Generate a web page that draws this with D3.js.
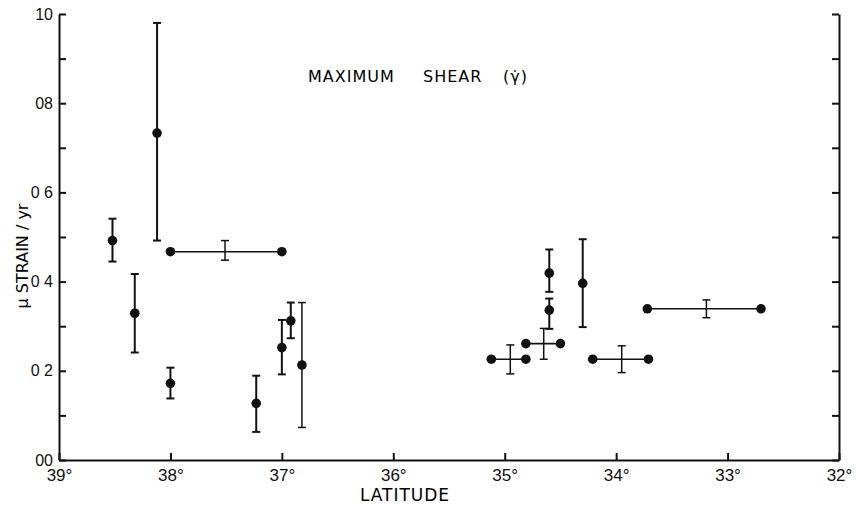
<!DOCTYPE html>
<html>
<head>
<meta charset="utf-8">
<script src="https://cdn.jsdelivr.net/npm/d3@7"></script>
<style>
  body { margin: 0; background: #fff; }
  svg { font-family: "DejaVu Sans", sans-serif; }
  .axis path, .axis line { stroke: #111; stroke-width: 2; }
  .axis text { font-size: 16px; fill: #111; }
</style>
</head>
<body>
<svg width="857" height="506"></svg>
<script>
// DATA

// single stations: latitude, rate, error bar low / high
var singleLat = [38.52, 38.12, 38.32, 38.0, 37.23, 37.0, 36.92, 36.82, 34.6, 34.6, 34.3];
var singleVal = [0.492, 0.733, 0.329, 0.172, 0.127, 0.252, 0.312, 0.213, 0.419, 0.336, 0.396];
var singleLo  = [0.445, 0.492, 0.241, 0.138, 0.063, 0.192, 0.273, 0.073, 0.377, 0.294, 0.298];
var singleHi  = [0.541, 0.980, 0.417, 0.207, 0.189, 0.314, 0.353, 0.353, 0.472, 0.362, 0.495];

// networks spanning a latitude range: ends, rate, error bar position and extent
var spanLatA = [38.0, 35.12, 34.81, 34.21, 33.72];
var spanLatB = [37.0, 34.81, 34.5, 33.71, 32.70];
var spanVal  = [0.467, 0.226, 0.261, 0.226, 0.339];
var spanMid  = [37.51, 34.95, 34.65, 33.95, 33.19];
var spanLo   = [0.448, 0.193, 0.226, 0.196, 0.319];
var spanHi   = [0.492, 0.258, 0.295, 0.256, 0.359];

var latTicks = [39, 38, 37, 36, 35, 34, 33, 32];
var rateTicks = [0, 0.1, 0.2, 0.3, 0.4, 0.5, 0.6, 0.7, 0.8, 0.9, 1.0];
var rateLabels = ["00", "", "0 2", "", "0 4", "", "0 6", "", "08", "", "10"];

// SETUP

var svg = d3.select("svg"),
    margin = { top: 14, right: 18, bottom: 46, left: 59 },
    width = 857 - margin.left - margin.right,
    height = 506 - margin.top - margin.bottom;

var x = d3.scaleLinear().domain([39, 32]).range([0, width]);
var y = d3.scaleLinear().domain([0, 1]).range([height, 0]);

var g = svg.append("g")
    .attr("transform", "translate(" + margin.left + "," + margin.top + ")");

// AXES

g.append("g")
    .attr("class", "axis axis--y")
    .call(d3.axisLeft(y).tickValues(rateTicks).tickSize(-7).tickSizeOuter(0).tickPadding(6)
        .tickFormat(function (d, i) { return rateLabels[i]; }));

g.append("g")
    .attr("class", "axis axis--y2")
    .attr("transform", "translate(" + width + ",0)")
    .call(d3.axisRight(y).tickValues(rateTicks).tickSize(-7).tickSizeOuter(0).tickFormat(""));

g.append("g")
    .attr("class", "axis axis--x")
    .attr("transform", "translate(0," + height + ")")
    .call(d3.axisBottom(x).tickValues(latTicks).tickSize(-7).tickSizeOuter(0).tickPadding(9)
        .tickFormat(function (d) { return d + "°"; }));

g.selectAll(".axis--x text").style("font-size", "17px");

// labels
svg.append("text")
    .attr("x", 405).attr("y", 501)
    .attr("text-anchor", "middle")
    .style("font-size", "17px").style("letter-spacing", "1px")
    .text("LATITUDE");

svg.append("text")
    .attr("transform", "translate(28,256) rotate(-90)")
    .attr("text-anchor", "middle")
    .style("font-size", "16px")
    .text("μ STRAIN / yr");

var title = svg.append("text")
    .attr("y", 82)
    .style("font-size", "16px").style("letter-spacing", "1px");
title.append("tspan").attr("x", 308).text("MAXIMUM");
title.append("tspan").attr("x", 423).text("SHEAR");
title.append("tspan").attr("x", 503).text("(γ̇)");

// MARKS

function errBar(sel, lat, lo, hi, w) {
    var cx = x(lat);
    sel.append("line").attr("x1", cx).attr("x2", cx).attr("y1", y(lo)).attr("y2", y(hi));
    sel.append("line").attr("x1", cx - 4).attr("x2", cx + 4).attr("y1", y(lo)).attr("y2", y(lo));
    sel.append("line").attr("x1", cx - 4).attr("x2", cx + 4).attr("y1", y(hi)).attr("y2", y(hi));
    sel.selectAll("line").attr("stroke", "#111").attr("stroke-width", w);
}

singleLat.forEach(function (lat, i) {
    var s = g.append("g").attr("class", "single");
    errBar(s, lat, singleLo[i], singleHi[i], i === 7 ? 1.5 : 2);
    s.append("circle")
        .attr("cx", x(lat)).attr("cy", y(singleVal[i])).attr("r", 4.8)
        .attr("fill", "#111");
});

spanLatA.forEach(function (lat, i) {
    var s = g.append("g").attr("class", "span");
    s.append("line")
        .attr("x1", x(lat)).attr("x2", x(spanLatB[i]))
        .attr("y1", y(spanVal[i])).attr("y2", y(spanVal[i]))
        .attr("stroke", "#111").attr("stroke-width", 1.6);
    var e = s.append("g");
    errBar(e, spanMid[i], spanLo[i], spanHi[i], 1.5);
    s.selectAll("circle")
        .data([lat, spanLatB[i]])
        .enter().append("circle")
        .attr("cx", function (d) { return x(d); })
        .attr("cy", y(spanVal[i]))
        .attr("r", 4.8)
        .attr("fill", "#111");
});
</script>
</body>
</html>
